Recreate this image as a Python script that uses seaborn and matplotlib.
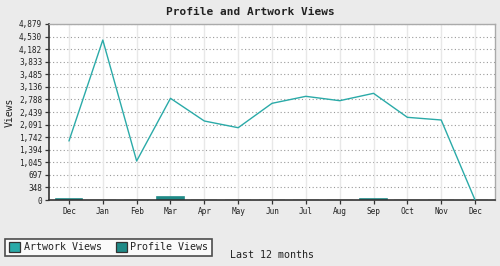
import matplotlib
matplotlib.use("Agg")
import matplotlib.pyplot as plt
import seaborn as sns
import pandas as pd
from matplotlib.patches import Patch

months = ["Dec", "Jan", "Feb", "Mar", "Apr", "May", "Jun", "Jul", "Aug", "Sep", "Oct", "Nov", "Dec"]
artwork_views = [1636, 4435, 1081, 2819, 2190, 2004, 2680, 2874, 2753, 2957, 2292, 2218, 0]
profile_views = [35, 0, 0, 70, 0, 0, 0, 0, 0, 35, 0, 0, 0]
y_ticks = [0, 348, 697, 1045, 1394, 1742, 2091, 2439, 2788, 3136, 3485, 3833, 4182, 4530, 4879]

df = pd.DataFrame({"idx": list(range(len(months))), "month": months,
                   "artwork": artwork_views, "profile": profile_views})

sns.set_theme(style="white")
plt.rcParams["font.family"] = ["DejaVu Sans Mono", "DejaVu Sans"]

fig = plt.figure(figsize=(5.0, 2.66), dpi=100, facecolor="#ebebeb")
ax = fig.add_axes([49/500, 66/266, 446/500, 176/266])
ax.set_facecolor("white")

ART = "#2aaaa8"
PROF = "#1f8a87"

# grid
for t in y_ticks[1:]:
    ax.axhline(t, color="#999999", lw=0.8, ls=(0, (1, 2.2)), zorder=0)
for i in range(len(months)):
    ax.axvline(i, color="#e8e8e8", lw=1.0, zorder=0)

sns.barplot(data=df, x="idx", y="profile", native_scale=True, width=0.77,
            color=PROF, saturation=1, edgecolor="#e4e4e4", linewidth=1.2, ax=ax, zorder=2)
for p, v in zip(ax.patches, profile_views):
    if v > 0:
        p.set_edgecolor(PROF)
sns.lineplot(data=df, x="idx", y="artwork", color=ART, lw=1.0, ax=ax, zorder=3)

ax.set_xlim(-0.59, len(months) - 1 + 0.59)
ax.set_ylim(0, 4879)
ax.set_yticks(y_ticks)
ax.set_yticklabels([f"{t:,}" for t in y_ticks], fontsize=5.6, color="#222222")
ax.set_xticks(range(len(months)))
ax.set_xticklabels(months, fontsize=5.6, color="#222222")
ax.tick_params(axis="both", length=3, width=0.9, color="#333333", pad=2,
               bottom=True, left=True)

for side in ["top", "right"]:
    ax.spines[side].set_color("#aaaaaa")
    ax.spines[side].set_linewidth(1.0)
for side in ["left", "bottom"]:
    ax.spines[side].set_color("#333333")
    ax.spines[side].set_linewidth(1.2)

ax.set_xlabel("")
ax.set_ylabel("Views", fontsize=7, color="#222222", labelpad=3)
fig.text(272/500, 1 - 255/266, "Last 12 months", fontsize=7.2, ha="center", va="center", color="#222222")
fig.text(0.5, 1 - 12/266, "Profile and Artwork Views", fontsize=8, fontweight="bold",
         ha="center", va="center", color="#222222")

handles = [Patch(facecolor=ART, edgecolor="#333333", lw=0.9, label="Artwork Views"),
           Patch(facecolor=PROF, edgecolor="#333333", lw=0.9, label="Profile Views")]
leg = fig.legend(handles=handles, loc="lower left", bbox_to_anchor=(5/500, 1 - 256/266),
                 ncol=2, fontsize=7.2, frameon=True, fancybox=False, handlelength=1.1,
                 handleheight=1.1, handletextpad=0.4, columnspacing=1.4, borderpad=0.35,
                 borderaxespad=0)
leg.get_frame().set_edgecolor("#222222")
leg.get_frame().set_linewidth(1.2)
leg.get_frame().set_facecolor("white")
for t in leg.get_texts():
    t.set_color("#222222")

fig.savefig("out.png", dpi=100, facecolor=fig.get_facecolor())
